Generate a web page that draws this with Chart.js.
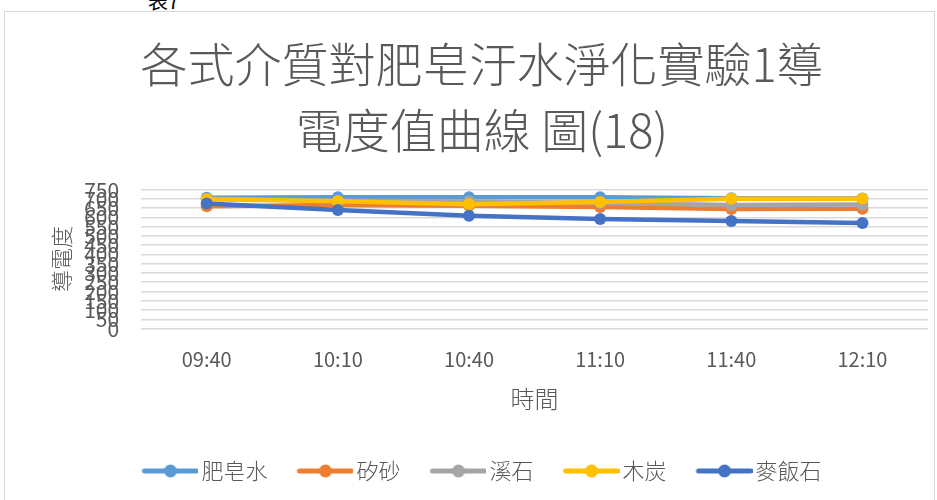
<!DOCTYPE html>
<html>
<head>
<meta charset="utf-8">
<script src="https://cdn.jsdelivr.net/npm/chart.js@4"></script>
<style>
  html, body { margin: 0; padding: 0; background: #fff; overflow: hidden; }
  #caption {
    position: absolute; left: 148px; top: -14px;
    font: 20px "Noto Sans CJK TC", sans-serif; color: #000;
  }
  #frame {
    position: absolute; left: 4px; top: 11px;
    width: 929px; height: 495px;
    border: 1px solid #d9d9d9; background: #fff;
  }
</style>
</head>
<body>
<div id="caption">表7</div>
<div id="frame"><canvas id="conductChart" width="929" height="489"></canvas></div>
<script>
// sampling times
const times = ['09:40', '10:10', '10:40', '11:10', '11:40', '12:10'];

// conductivity readings per filter medium
const soapWater = [706, 709, 709, 709, 703, 702];
const silicaSand = [660, 666, 663, 656, 645, 647];
const brookStone = [700, 690, 686, 678, 666, 669];
const charcoal = [697, 687, 670, 683, 700, 700];
const maifanStone = [675, 640, 609, 591, 580, 570];

const seriesNames = ['肥皂水', '矽砂', '溪石', '木炭', '麥飯石'];
const seriesColors = ['#5b9bd5', '#ed7d31', '#a5a5a5', '#ffc000', '#4472c4'];
const seriesValues = [soapWater, silicaSand, brookStone, charcoal, maifanStone];

const yTicks = [0, 50, 100, 150, 200, 250, 300, 350, 400, 450, 500, 550, 600, 650, 700, 750];

const fontFamily = '"Noto Sans CJK TC", "Noto Sans", sans-serif';
const textColor = '#595959';

// line-with-dot swatch for the legend; the image is wider than the
// legend box so the text can sit close to the line end
const SWATCH_BOX = 48;
const SWATCH_SHIFT = 8;
function legendSwatch(color) {
  const c = document.createElement('canvas');
  c.width = SWATCH_BOX + SWATCH_SHIFT * 2;
  c.height = 16;
  const g = c.getContext('2d');
  const x0 = SWATCH_SHIFT + 2, x1 = c.width - 2;
  g.strokeStyle = color;
  g.lineWidth = 5;
  g.lineCap = 'round';
  g.beginPath(); g.moveTo(x0, 8); g.lineTo(x1, 8); g.stroke();
  g.fillStyle = color;
  g.beginPath(); g.arc((x0 + x1) / 2, 8, 6.5, 0, Math.PI * 2); g.fill();
  return c;
}

const datasets = seriesNames.map((name, i) => ({
  label: name,
  data: seriesValues[i],
  borderColor: seriesColors[i],
  backgroundColor: seriesColors[i],
  borderWidth: 4.5,
  pointRadius: 6,
  pointHoverRadius: 6,
  pointBorderWidth: 0,
  tension: 0,
  // later series sit on top
  order: seriesNames.length - i,
}));

const swatches = seriesColors.map(legendSwatch);

new Chart(document.getElementById('conductChart'), {
  type: 'line',
  data: { labels: times, datasets },
  options: {
    responsive: false,
    animation: false,
    layout: { padding: { left: 31, right: 6, top: 4, bottom: 9 } },
    plugins: {
      title: {
        display: true,
        text: ['各式介質對肥皂汙水淨化實驗1導', '電度值曲線 圖(18)'],
        color: textColor,
        font: { family: fontFamily, size: 47, weight: 300, lineHeight: 1.41 },
        padding: { top: 15, bottom: 26 },
      },
      legend: {
        position: 'bottom',
        labels: {
          color: textColor,
          font: { family: fontFamily, size: 22, weight: 300 },
          usePointStyle: true,
          pointStyleWidth: SWATCH_BOX,
          padding: 30,
          sort: (a, b) => a.datasetIndex - b.datasetIndex,
          generateLabels: chart => chart.data.datasets.map((ds, i) => ({
            text: ds.label,
            pointStyle: swatches[i],
            fillStyle: ds.borderColor,
            strokeStyle: ds.borderColor,
            lineWidth: 0,
            fontColor: textColor,
            datasetIndex: i,
            hidden: false,
          })),
        },
      },
      tooltip: { enabled: false },
    },
    scales: {
      x: {
        offset: true,
        grid: { display: false },
        border: { display: false },
        ticks: { color: textColor, font: { family: fontFamily, size: 20, lineHeight: 1.1 }, padding: 12 },
        title: {
          display: true, text: '時間', color: textColor,
          font: { family: fontFamily, size: 24, weight: 300, lineHeight: 1.1 }, padding: { top: 3, bottom: 18 },
        },
      },
      y: {
        min: 0,
        max: 750,
        afterBuildTicks: axis => { axis.ticks = yTicks.map(v => ({ value: v })); },
        grid: { color: '#d9d9d9', lineWidth: 1.5, drawTicks: false },
        border: { display: false },
        ticks: {
          autoSkip: false,
          color: textColor,
          font: { family: fontFamily, size: 21, lineHeight: 0.5 },
          padding: 22,
        },
        title: {
          display: true, text: '導電度', color: textColor,
          font: { family: fontFamily, size: 22, weight: 300, lineHeight: 1.1 }, padding: { top: 14, bottom: -12 },
        },
      },
    },
  },
});
</script>
</body>
</html>
